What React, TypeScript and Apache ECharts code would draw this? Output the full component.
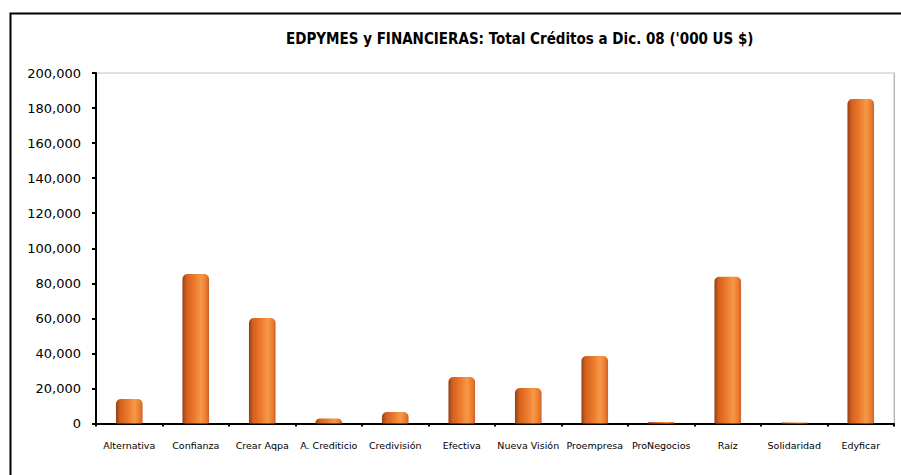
import React, { useEffect, useRef } from "react";
import * as echarts from "echarts";

const TITLE = "EDPYMES y FINANCIERAS: Total Créditos a Dic. 08 ('000 US $)";
const categories = [
  "Alternativa",
  "Confianza",
  "Crear Aqpa",
  "A. Crediticio",
  "Credivisión",
  "Efectiva",
  "Nueva Visión",
  "Proempresa",
  "ProNegocios",
  "Raíz",
  "Solidaridad",
  "Edyficar",
];
const values = [14000, 85300, 60200, 2900, 6600, 26500, 20300, 38500, 900, 83800, 500, 185100];
const yMin = 0;
const yMax = 200000;
const yStep = 20000;

export default function App() {
  const ref = useRef<HTMLDivElement>(null);
  useEffect(() => {
    if (!ref.current) return;
    const chart = echarts.init(ref.current, null, { renderer: "svg" });
    const barColor = new echarts.graphic.LinearGradient(0, 0, 1, 0, [
      { offset: 0, color: "#8f4016" },
      { offset: 0.15, color: "#d4601e" },
      { offset: 0.45, color: "#ec7a2c" },
      { offset: 0.7, color: "#f6994a" },
      { offset: 0.9, color: "#ea7a2c" },
      { offset: 1, color: "#c8602a" },
    ]);
    chart.setOption({
      animation: false,
      backgroundColor: "#ffffff",
      textStyle: { fontFamily: "DejaVu Sans" },
      title: {
        text: TITLE,
        left: 281,
        top: 26,
        textStyle: {
          fontFamily: "DejaVu Sans Condensed, DejaVu Sans",
          fontWeight: "bold",
          fontSize: 15,
          color: "#000",
        },
      },
      graphic: [
        {
          type: "rect",
          left: 8,
          top: 11,
          shape: { x: 0, y: 0, width: 1000, height: 1000 },
          style: { fill: "none", stroke: "#000", lineWidth: 2 },
          silent: true,
          z: 100,
        },
      ],
      grid: {
        left: 96,
        top: 73,
        right: 7,
        bottom: 51.5,
        show: true,
        borderColor: "#c4c4c4",
        borderWidth: 1,
        backgroundColor: "transparent",
      },
      xAxis: {
        type: "category",
        data: categories,
        boundaryGap: true,
        axisLine: { lineStyle: { color: "#000", width: 2 } },
        axisTick: { show: true, length: 3, lineStyle: { color: "#000", width: 2 } },
        axisLabel: {
          color: "#000",
          fontSize: 9.5,
          fontFamily: "DejaVu Sans",
          margin: 17,
          interval: 0,
        },
      },
      yAxis: [
        {
          type: "value",
          min: yMin,
          max: yMax,
          interval: yStep,
          axisLine: { show: true, lineStyle: { color: "#000", width: 2 } },
          axisTick: { show: true, length: 4, lineStyle: { color: "#000", width: 2 } },
          splitLine: { show: false },
          axisLabel: {
            color: "#000",
            fontSize: 13,
            fontFamily: "DejaVu Sans",
            margin: 15,
            formatter: (v: number) => v.toLocaleString("en-US"),
          },
        },
        {
          type: "value",
          position: "right",
          min: yMin,
          max: yMax,
          interval: yStep,
          axisLine: { show: true, lineStyle: { color: "#b0b0b0", width: 1, type: "dotted" } },
          axisTick: { show: false },
          axisLabel: { show: false },
          splitLine: { show: false },
        },
      ],
      series: [
        {
          type: "bar",
          data: values,
          yAxisIndex: 0,
          barWidth: "40%",
          itemStyle: { color: barColor, borderRadius: [5, 5, 1, 1] },
        },
      ],
    });
    return () => chart.dispose();
  }, []);
  return (
    <div
      ref={ref}
      style={{ position: "fixed", left: 0, top: 0, width: 901, height: 475 }}
    />
  );
}
